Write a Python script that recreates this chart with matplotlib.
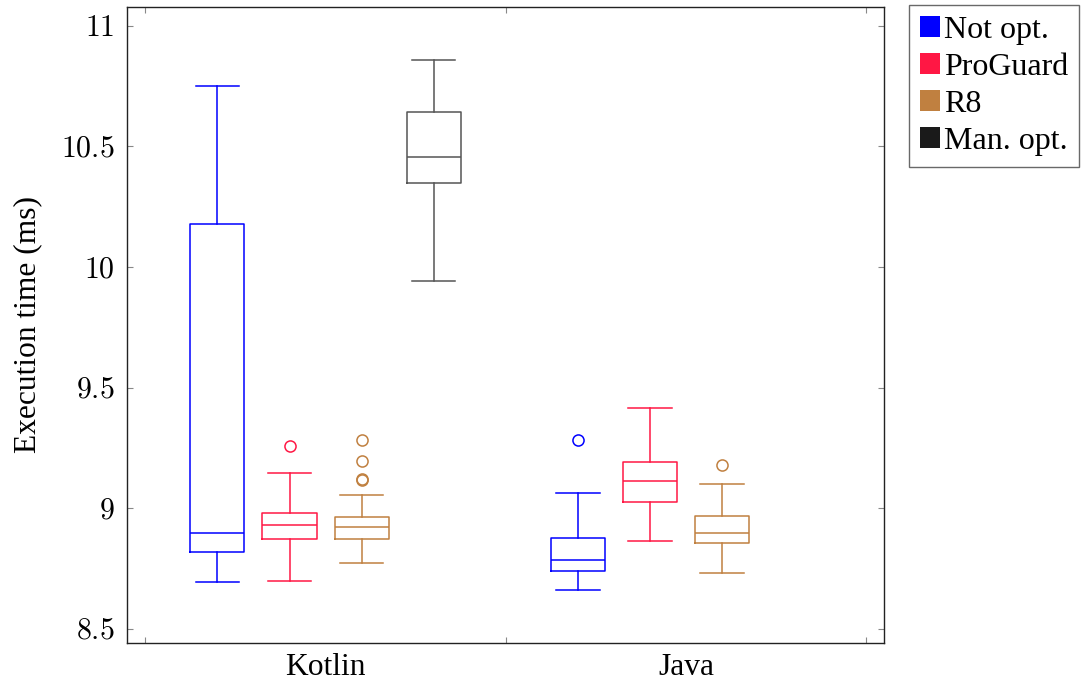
import matplotlib
matplotlib.use("Agg")
import matplotlib.pyplot as plt
from matplotlib.patches import Patch
from matplotlib.ticker import FuncFormatter

plt.rcParams['font.family'] = ['Liberation Serif', 'DejaVu Serif']
plt.rcParams['mathtext.fontset'] = 'cm'

########################### data ####################################
configs = ['Not opt.', 'ProGuard', 'R8', 'Man. opt.']
colours = ['#0000ff', '#ff1744', '#c08040', '#1a1a1a']
groups = ['Kotlin', 'Java']

# per box: (group, config index)
box_group = [0, 0, 0, 0, 1, 1, 1]
box_config = [0, 1, 2, 3, 0, 1, 2]
whislo = [8.693, 8.698, 8.773, 9.942, 8.658, 8.863, 8.730]
q1 = [8.817, 8.870, 8.870, 10.347, 8.737, 9.024, 8.853]
med = [8.896, 8.931, 8.922, 10.458, 8.783, 9.114, 8.895]
q3 = [10.178, 8.980, 8.963, 10.644, 8.874, 9.190, 8.967]
whishi = [10.751, 9.144, 9.054, 10.859, 9.064, 9.415, 9.099]
fliers = [[], [9.257], [9.284, 9.194, 9.122, 9.115], [], [9.284], [], [9.180]]

ytick_vals = [8.5, 9, 9.5, 10, 10.5, 11]

######################  plot ##################################
fig = plt.figure(figsize=(10.82, 6.86), dpi=100)
ax = fig.add_axes([127.3 / 1082, 1 - 643 / 686, (884.3 - 127.3) / 1082, (643 - 6.7) / 686])

for i in range(len(med)):
    g = box_group[i]
    c = box_config[i]
    pos = g * 5 + c + 1
    col = colours[c]
    if c == 3:
        col = '#555555'
    stats = [dict(whislo=whislo[i], q1=q1[i], med=med[i], q3=q3[i], whishi=whishi[i], fliers=fliers[i])]
    ax.bxp(stats, positions=[pos], widths=0.75, showfliers=True,
           boxprops=dict(color=col, linewidth=1.1),
           medianprops=dict(color=col, linewidth=1.1),
           whiskerprops=dict(color=col, linewidth=1.1),
           capprops=dict(color=col, linewidth=1.1),
           capwidths=0.6,
           flierprops=dict(marker='o', markerfacecolor='none', markeredgecolor=col, markersize=8, markeredgewidth=1.1),
           manage_ticks=False)

ax.set_xlim(-0.25, 10.25)
ax.set_ylim(8.44, 11.08)

ax.set_xticks([0, 5, 10])
ax.set_xticklabels([])
ax.set_xticks([2.5, 7.5], minor=True)
ax.set_xticklabels(groups, minor=True, fontsize=22.7)
ax.tick_params(axis='x', which='minor', length=0, pad=7)
ax.tick_params(axis='x', which='major', direction='in', length=4, color='#888888', top=True)

ax.set_yticks(ytick_vals)
ax.yaxis.set_major_formatter(FuncFormatter(lambda v, p: '$%g$' % v))
ax.tick_params(axis='y', direction='in', length=4.5, color='#888888', right=True, labelsize=21.5, pad=9)
ax.set_ylabel('Execution time (ms)', fontsize=22.7, labelpad=14)

for s in ax.spines.values():
    s.set_linewidth(1.0)
    s.set_color('#222222')

handles = [Patch(facecolor=colours[k], edgecolor='none') for k in range(len(configs))]
leg = ax.legend(handles, configs, loc='upper left', bbox_to_anchor=(1.032, 1.003), fontsize=23,
                frameon=True, fancybox=False, edgecolor='#444444', handlelength=0.65, handleheight=0.65,
                handletextpad=0.1, borderpad=0.35, labelspacing=0.25, borderaxespad=0.0)
leg.get_frame().set_linewidth(1.0)

fig.savefig('out.png', dpi=100)
